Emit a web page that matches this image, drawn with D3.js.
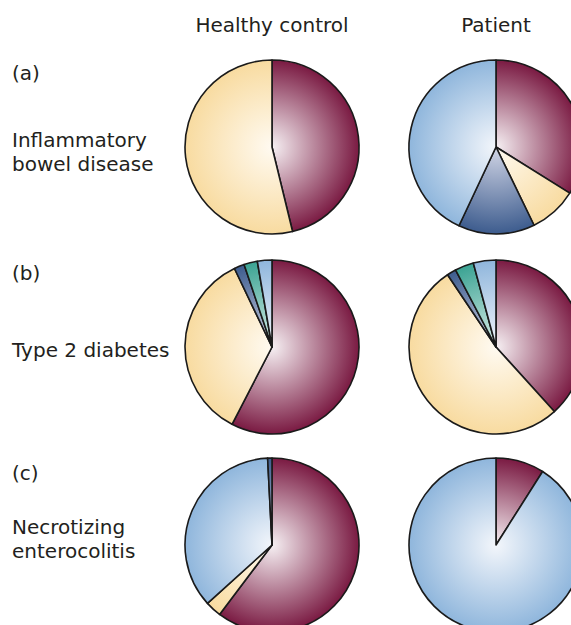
<!DOCTYPE html>
<html>
<head>
<meta charset="utf-8">
<script src="https://cdnjs.cloudflare.com/ajax/libs/d3/7.8.5/d3.min.js"></script>
<style>
  body { margin: 0; background: #fff; }
  text { font-family: "DejaVu Sans", sans-serif; fill: #231f20; }
</style>
</head>
<body>
<div id="chart"></div>
<script>
// column headings and row labels
var columns = ["Healthy control", "Patient"];
var panels = ["(a)", "(b)", "(c)"];
var diseases = [["Inflammatory", "bowel disease"], ["Type 2 diabetes"], ["Necrotizing", "enterocolitis"]];

// slice categories, clockwise from 12 o'clock, and their share (%)
var ibdControlCats = ["Firmicutes", "Bacteroidetes"];
var ibdControlVals = [46.2, 53.8];
var ibdPatientCats = ["Firmicutes", "Bacteroidetes", "Actinobacteria", "Proteobacteria"];
var ibdPatientVals = [33.9, 8.9, 14.2, 43.0];
var t2dControlCats = ["Firmicutes", "Bacteroidetes", "Actinobacteria", "Verrucomicrobia", "Proteobacteria"];
var t2dControlVals = [57.6, 35.3, 1.9, 2.5, 2.7];
var t2dPatientCats = ["Firmicutes", "Bacteroidetes", "Actinobacteria", "Verrucomicrobia", "Proteobacteria"];
var t2dPatientVals = [38.3, 52.3, 1.7, 3.5, 4.2];
var necControlCats = ["Firmicutes", "Bacteroidetes", "Proteobacteria", "Actinobacteria"];
var necControlVals = [60.3, 3.0, 35.9, 0.8];
var necPatientCats = ["Firmicutes", "Proteobacteria"];
var necPatientVals = [9.0, 91.0];

var categories = ["Firmicutes", "Bacteroidetes", "Actinobacteria", "Verrucomicrobia", "Proteobacteria"];
var edgeColors = ["#7a1a42", "#f8dba0", "#3d5c8e", "#3ba393", "#8fb6dc"];
var centerColors = ["#f6f0f3", "#fffaf1", "#d2d6e6", "#dcefea", "#f3f6fb"];

var pies = [
  [{cats: ibdControlCats, vals: ibdControlVals}, {cats: ibdPatientCats, vals: ibdPatientVals}],
  [{cats: t2dControlCats, vals: t2dControlVals}, {cats: t2dPatientCats, vals: t2dPatientVals}],
  [{cats: necControlCats, vals: necControlVals}, {cats: necPatientCats, vals: necPatientVals}]
];

var width = 571, height = 625, radius = 87;

var x = d3.scaleOrdinal().domain(columns).range([272, 496]);
var y = d3.scaleOrdinal().domain(panels).range([147, 347, 545]);

var svg = d3.select("#chart").append("svg")
  .attr("width", width).attr("height", height);

// radial gradients, one per category (same centre for every pie)
var defs = svg.append("defs");
categories.forEach(function (c, i) {
  var g = defs.append("radialGradient")
    .attr("id", "grad" + i)
    .attr("gradientUnits", "userSpaceOnUse")
    .attr("cx", 0).attr("cy", 0).attr("r", radius);
  g.append("stop").attr("offset", "0%").attr("stop-color", centerColors[i]);
  g.append("stop").attr("offset", "100%").attr("stop-color", edgeColors[i]);
});

// headings
svg.selectAll("text.head")
  .data(columns).enter()
  .append("text")
    .attr("class", "head")
    .attr("x", function (d) { return x(d); })
    .attr("y", 32)
    .attr("text-anchor", "middle")
    .style("font-size", "20px")
    .text(function (d) { return d; });

var pie = d3.pie().sort(null).value(function (d) { return d.value; });
var arc = d3.arc().innerRadius(0).outerRadius(radius);

var labelY = [[80, 147, 171], [280, 357], [480, 534, 558]];

panels.forEach(function (p, r) {
  // row labels
  svg.append("text")
    .attr("x", 12).attr("y", labelY[r][0])
    .style("font-size", "20px")
    .text(p);
  diseases[r].forEach(function (line, k) {
    svg.append("text")
      .attr("x", 12).attr("y", labelY[r][k + 1])
      .style("font-size", "20px")
      .text(line);
  });

  columns.forEach(function (col, c) {
    var d = pies[r][c];
    var rows = d.cats.map(function (cat, i) { return {cat: cat, value: d.vals[i]}; });
    var g = svg.append("g")
      .attr("transform", "translate(" + x(col) + "," + y(p) + ")");
    g.selectAll("path")
      .data(pie(rows)).enter()
      .append("path")
        .attr("d", arc)
        .attr("fill", function (s) { return "url(#grad" + categories.indexOf(s.data.cat) + ")"; })
        .attr("stroke", "#1a1a1a")
        .attr("stroke-width", 1.6)
        .attr("stroke-linejoin", "round");
  });
});
</script>
</body>
</html>
